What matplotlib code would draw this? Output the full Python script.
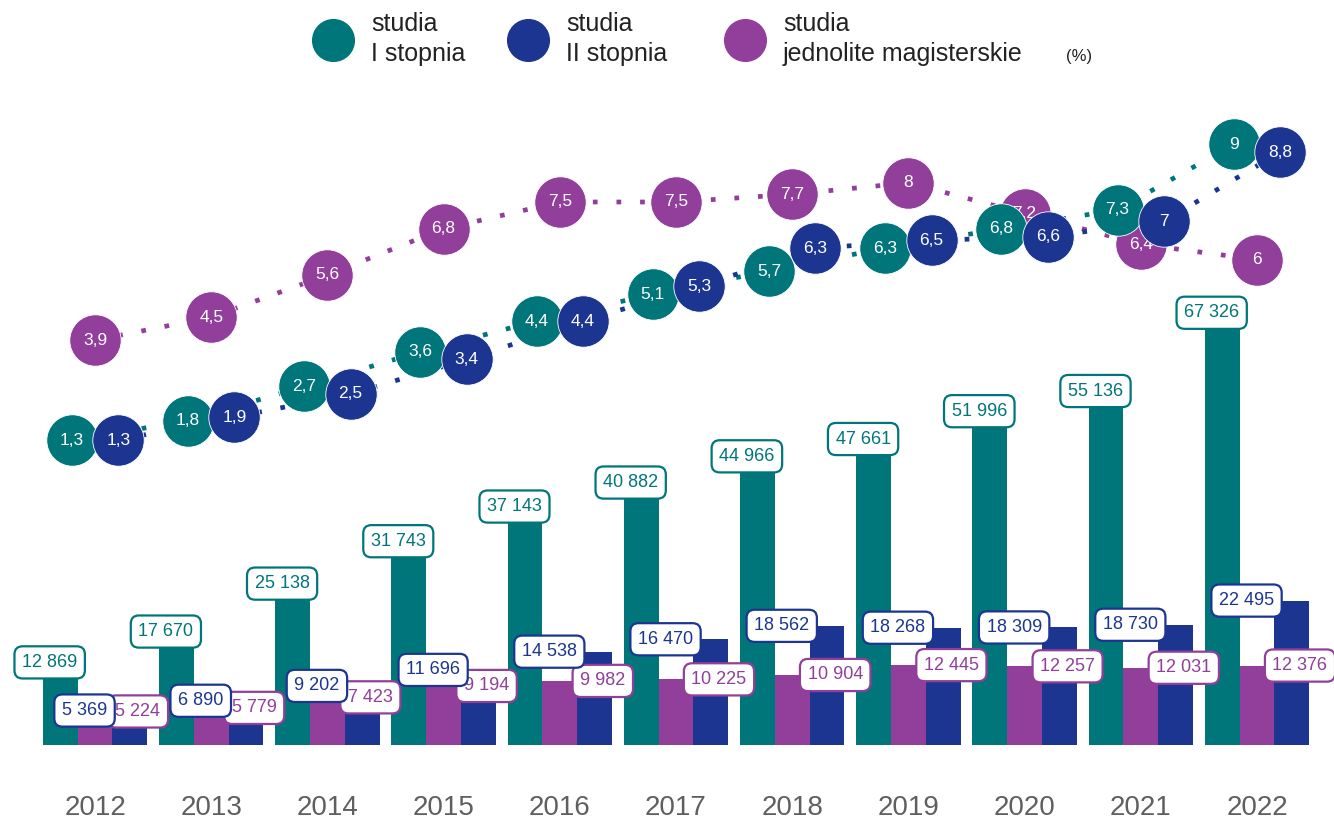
import matplotlib.pyplot as plt
from matplotlib.lines import Line2D

# data
years = ['2012', '2013', '2014', '2015', '2016', '2017', '2018', '2019', '2020', '2021', '2022']
stud_1 = [12869, 17670, 25138, 31743, 37143, 40882, 44966, 47661, 51996, 55136, 67326]
stud_2 = [5369, 6890, 9202, 11696, 14538, 16470, 18562, 18268, 18309, 18730, 22495]
stud_jm = [5224, 5779, 7423, 9194, 9982, 10225, 10904, 12445, 12257, 12031, 12376]
pct_1 = [1.3, 1.8, 2.7, 3.6, 4.4, 5.1, 5.7, 6.3, 6.8, 7.3, 9]
pct_2 = [1.3, 1.9, 2.5, 3.4, 4.4, 5.3, 6.3, 6.5, 6.6, 7, 8.8]
pct_jm = [3.9, 4.5, 5.6, 6.8, 7.5, 7.5, 7.7, 8, 7.2, 6.4, 6]

TEAL = '#00767A'
BLUE = '#1B3591'
PURPLE = '#913F9B'
FONT = 'Liberation Sans'


def fmt_int(v):
    return f"{v:,}".replace(',', ' ')


def fmt_pct(v):
    return f"{v:g}".replace('.', ',')


def plot_chart():
    fig = plt.figure(figsize=(13.34, 8.24), dpi=100)
    ax = fig.add_axes([0, 0, 1, 1])
    ax.set_xlim(-95 / 116.2, (1334 - 95) / 116.2)
    ax.set_ylim(-(824 - 745) / 6.42 * 1000, 745 / 6.42 * 1000)
    ax.axis('off')

    x = list(range(len(years)))
    w = 0.3
    ax.bar([i - w for i in x], stud_1, width=w, color=TEAL, zorder=2)
    ax.bar(x, stud_jm, width=w, color=PURPLE, zorder=2)
    ax.bar([i + w for i in x], stud_2, width=w, color=BLUE, zorder=2)

    box = 'round,pad=0.42,rounding_size=0.45'
    for i in x:
        ax.text(i + 0.37, stud_jm[i], fmt_int(stud_jm[i]), ha='center', va='center',
                fontsize=13, color=PURPLE, family=FONT, zorder=3,
                bbox=dict(boxstyle=box, fc='white', ec=PURPLE, lw=1.6))
        ax.text(i - 0.09, stud_2[i], fmt_int(stud_2[i]), ha='center', va='center',
                fontsize=13, color=BLUE, family=FONT, zorder=4,
                bbox=dict(boxstyle=box, fc='white', ec=BLUE, lw=1.6))
        ax.text(i - 0.39, stud_1[i], fmt_int(stud_1[i]), ha='center', va='center',
                fontsize=13, color=TEAL, family=FONT, zorder=5,
                bbox=dict(boxstyle=box, fc='white', ec=TEAL, lw=1.6))
        ax.text(i, 16 / 824, years[i], transform=ax.get_xaxis_transform(),
                ha='center', va='center', fontsize=20, color='#5f5f5f', family=FONT)

    # percentages
    ax2 = ax.twinx()
    ax2.set_position([0, 0, 1, 1])
    ax2.set_ylim(-334 / 38.4, (824 - 334) / 38.4)
    ax2.axis('off')
    series = [(pct_jm, 0.0, PURPLE, 2), (pct_1, -0.2, TEAL, 3), (pct_2, 0.2, BLUE, 4)]
    for vals, off, col, z in series:
        xs = [i + off for i in x]
        ax2.plot(xs, vals, color=col, lw=3.4, linestyle=(0, (1, 4)), zorder=1)
    for vals, off, col, z in series:
        xs = [i + off for i in x]
        ax2.plot(xs, vals, linestyle='', marker='o', ms=37, color=col,
                 markeredgecolor='white', markeredgewidth=0.6, zorder=z)
        for xi, v in zip(xs, vals):
            ax2.text(xi, v, fmt_pct(v), ha='center', va='center', fontsize=12.5,
                     color='white', family=FONT, zorder=z)

    # legend
    items = [(333, TEAL, 'studia\nI stopnia'), (528, BLUE, 'studia\nII stopnia'),
             (745, PURPLE, 'studia\njednolite magisterskie')]
    for px, col, label in items:
        fig.add_artist(Line2D([px / 1334], [1 - 40 / 824], transform=fig.transFigure,
                              marker='o', ms=30, color=col, linestyle=''))
        fig.text((px + 38) / 1334, 1 - 39 / 824, label, ha='left', va='center',
                 fontsize=18, color='#222222', family=FONT, linespacing=1.3)
    fig.text(1079 / 1334, 1 - 56 / 824, '(%)', ha='center', va='center',
             fontsize=12, color='#222222', family=FONT)

    fig.savefig('out.png', dpi=100)


if __name__ == '__main__':
    plot_chart()
